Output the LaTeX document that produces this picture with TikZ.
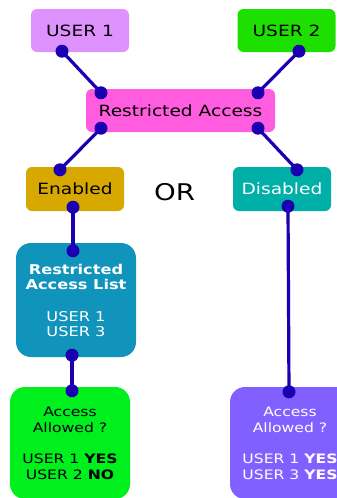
\documentclass[tikz,border=0pt]{standalone}
\usepackage{fontspec}
\setmainfont{DejaVu Sans}[FakeStretch=1.2]

\definecolor{userone}{RGB}{222,146,253}
\definecolor{usertwo}{RGB}{30,224,0}
\definecolor{restrict}{RGB}{255,92,224}
\definecolor{enabl}{RGB}{214,168,0}
\definecolor{disabl}{RGB}{0,175,168}
\definecolor{rlist}{RGB}{16,148,188}
\definecolor{allowgreen}{RGB}{0,240,30}
\definecolor{allowpurple}{RGB}{130,96,255}
\definecolor{linkblue}{RGB}{26,0,176}

\begin{document}
\begin{tikzpicture}[x=1pt,y=-1pt,
    box/.style={rounded corners=6pt, minimum width=98pt, minimum height=43pt, inner sep=0pt, font=\fontsize{15.5}{18}\selectfont},
    bigbox/.style={rounded corners=15pt, minimum width=120pt, inner sep=0pt, align=center},
    link/.style={line width=3.2pt, draw=linkblue},
    dot/.style={fill=linkblue}]
        \clip (0,0) rectangle (337,498);

        % Users
        \node[box, fill=userone] (user1) at (80,30.5) {USER 1};
        \node[box, fill=usertwo] (user2) at (286.5,30.5) {USER 2};
        \node[box, fill=restrict, minimum width=189pt] (ra) at (180.5,110.5) {Restricted Access};

        % Enabled / Disabled
        \node[box, fill=enabl, minimum height=44pt] (enabled) at (75,189) {Enabled};
        \node[box, fill=disabl, minimum height=44pt, text=white] (disabled) at (282,189) {Disabled};
        \node[font=\fontsize{23}{26}\selectfont] (or) at (174.5,191.7) {OR};

        % Lists and results
        \node[bigbox, fill=rlist, minimum height=114pt, text=white, font=\fontsize{13.5}{15}\selectfont] (ral) at (76,300)
            {\textbf{Restricted}\\\textbf{Access List}\\[17pt]USER 1\\USER 3};
        \node[bigbox, fill=allowgreen, minimum height=112pt, font=\fontsize{13}{16}\selectfont] (allowl) at (70,443)
            {Access\\Allowed ?\\[15pt]USER 1 \textbf{YES}\\USER 2 \textbf{NO}};
        \node[bigbox, fill=allowpurple, minimum height=112pt, text=white, font=\fontsize{13}{16}\selectfont] (allowr) at (290,443)
            {Access\\Allowed ?\\[15pt]USER 1 \textbf{YES}\\USER 3 \textbf{YES}};

        % Connection points
        \coordinate (u1d) at ([xshift=-18pt,yshift=1pt]user1.south);
        \coordinate (u2d) at ([xshift=12.5pt,yshift=1pt]user2.south);
        \coordinate (rat1) at ([xshift=-79.5pt,yshift=-4pt]ra.north);
        \coordinate (rat2) at ([xshift=77.5pt,yshift=-4pt]ra.north);
        \coordinate (rab1) at ([xshift=-79.5pt,yshift=4pt]ra.south);
        \coordinate (rab2) at ([xshift=77.5pt,yshift=4pt]ra.south);
        \coordinate (ent) at ([xshift=-15pt,yshift=-3pt]enabled.north);
        \coordinate (enb) at ([xshift=-2pt,yshift=4pt]enabled.south);
        \coordinate (dit) at ([xshift=15pt,yshift=-3pt]disabled.north);
        \coordinate (dib) at ([xshift=6pt,yshift=5pt]disabled.south);
        \coordinate (ralt) at ([xshift=-3pt,yshift=-8pt]ral.north);
        \coordinate (ralb) at ([xshift=-4pt,yshift=2pt]ral.south);
        \coordinate (alt) at ([xshift=2pt,yshift=-4pt]allowl.north);
        \coordinate (art) at ([xshift=-1pt,yshift=-5pt]allowr.north);

        % Links
        \draw[link] (u1d) -- (rat1);
        \draw[link] (u2d) -- (rat2);
        \draw[link] (rab1) -- (ent);
        \draw[link] (rab2) -- (dit);
        \draw[link] (enb) -- (ralt);
        \draw[link] (ralb) -- (alt);
        \draw[link] (dib) -- (art);
        \foreach \p in {u1d,u2d,rat1,rat2,rab1,rab2,ent,enb,dit,dib,ralt,ralb,alt,art}
            \fill[dot] (\p) circle (6.5pt);
\end{tikzpicture}
\end{document}
